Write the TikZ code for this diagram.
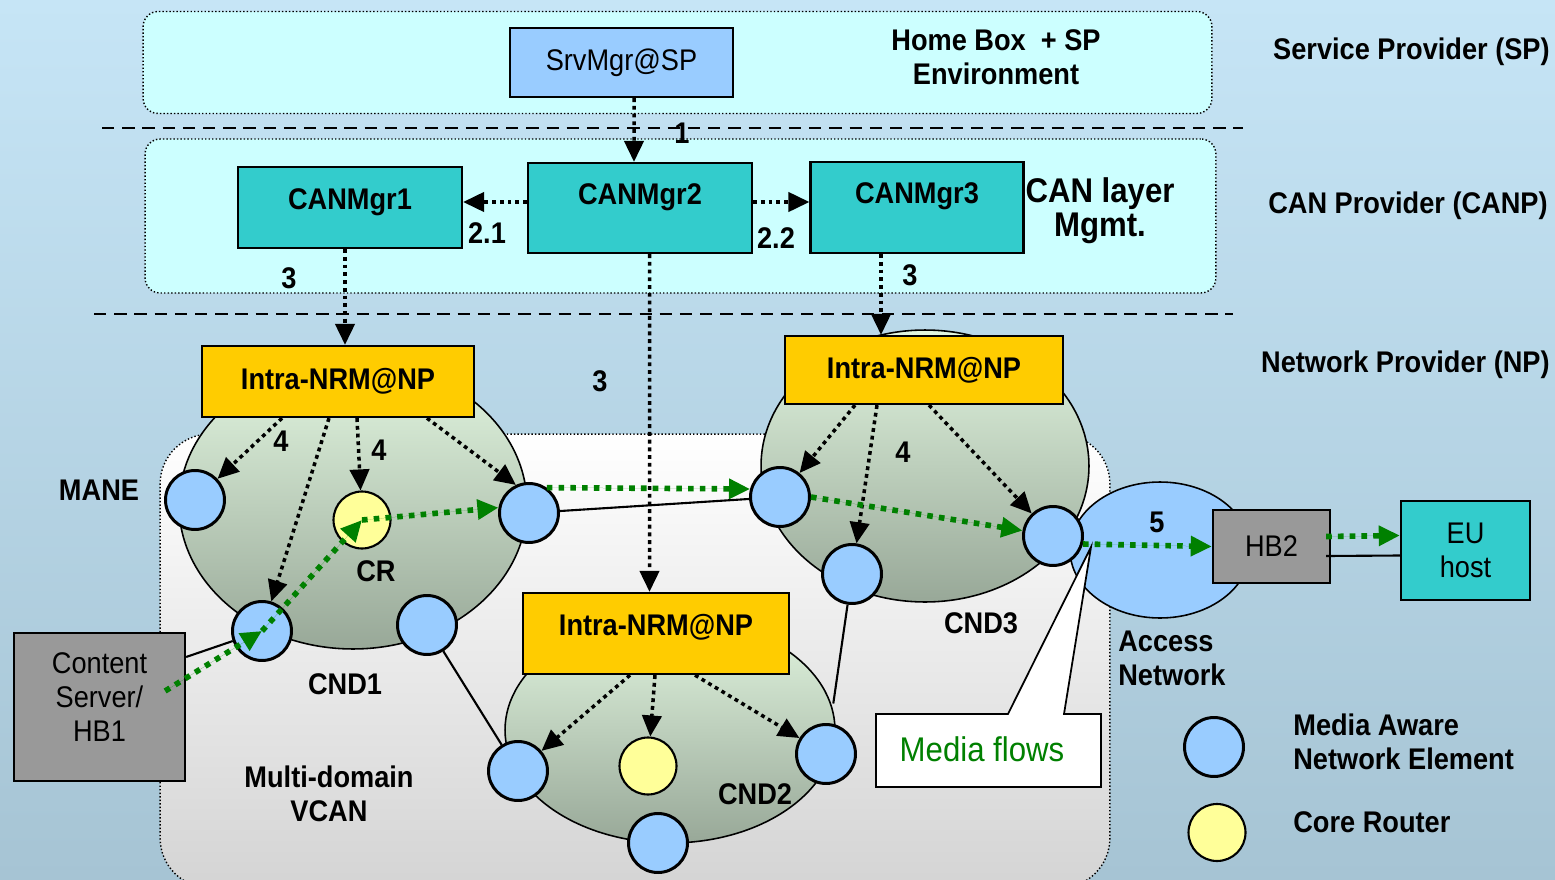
\documentclass[tikz,border=0pt]{standalone}
\usepackage{fontspec}
\setmainfont{Liberation Sans}[FakeStretch=0.91]
\usetikzlibrary{shapes.geometric, arrows.meta, calc}
\definecolor{bgtop}{RGB}{198,229,246}
\definecolor{bgbot}{RGB}{166,196,212}
\definecolor{layerfill}{RGB}{204,255,255}
\definecolor{srvblue}{RGB}{153,204,255}
\definecolor{canteal}{RGB}{51,204,204}
\definecolor{nrmgold}{RGB}{255,204,0}
\definecolor{hostgray}{RGB}{153,153,153}
\definecolor{crylw}{RGB}{255,255,153}
\definecolor{cndtop}{RGB}{226,246,224}
\definecolor{cndbot}{RGB}{152,168,152}
\definecolor{flowgreen}{RGB}{0,128,0}
\definecolor{vcanbot}{RGB}{212,212,212}

\begin{document}
\fontsize{17}{19.5}\selectfont
\begin{tikzpicture}[x=0.02cm, y=-0.02cm,
    layer/.style={draw, line width=0.8pt, dash pattern=on 0.8pt off 1.2pt, rounded corners=0.3cm, fill=layerfill, inner sep=0},
    sep/.style={line width=1.1pt, dash pattern=on 7pt off 4.5pt},
    box/.style={draw, line width=1.3pt, inner sep=0, align=center},
    mgr/.style={box, fill=canteal, font=\bfseries, text height=12pt, text depth=16pt},
    nrm/.style={box, fill=nrmgold, font=\bfseries},
    cnd/.style={ellipse, draw, line width=0.9pt, inner sep=0, top color=cndtop, bottom color=cndbot},
    mane/.style={circle, draw, line width=1.7pt, fill=srvblue, minimum size=1.18cm, inner sep=0},
    cr/.style={circle, draw, line width=1.2pt, fill=crylw, minimum size=1.14cm, inner sep=0},
    ctrl/.style={line width=2pt, dash pattern=on 2.2pt off 2.2pt, -{Triangle[length=12pt, width=11pt]}},
    flow/.style={draw=flowgreen, fill=flowgreen, line width=3.2pt, dash pattern=on 3.2pt off 3.5pt, -{Triangle[length=12pt, width=11pt]}},
    link/.style={line width=1.2pt},
    lbl/.style={font=\bfseries, inner sep=0}]

  \clip (0,0) rectangle (1555,879);
  \shade[top color=bgtop, bottom color=bgbot] (0,0) rectangle (1555,879);

  % layers
  \node[layer, minimum width=21.38cm, minimum height=2.04cm] (sp) at (677.5,62.5) {};
  \node[layer, minimum width=21.42cm, minimum height=3.08cm] (canp) at (680.5,216) {};
  \node[draw, line width=0.8pt, dash pattern=on 0.8pt off 1.2pt, rounded corners=1cm, top color=white, bottom color=vcanbot,
        minimum width=19cm, minimum height=9.08cm] (vcan) at (635,661) {};
  \draw[sep] (102,128) -- (1243,128);
  \draw[sep] (94,314) -- (1233,314);

  \node[lbl, anchor=east] (splbl) at (1550,52) {Service Provider (SP)};
  \node[lbl, anchor=east] (canplbl) at (1548,206) {CAN Provider (CANP)};
  \node[lbl, anchor=east] (nplbl) at (1550,365) {Network Provider (NP)};

  % managers
  \node[box, fill=srvblue, minimum width=4.46cm, minimum height=1.38cm] (srv) at (621.5,62.5) {SrvMgr@SP};
  \node[lbl, align=center] (hbenv) at (996,57.5) {Home Box\ \ + SP\\Environment};
  \node[mgr, text depth=10pt, minimum width=4.48cm, minimum height=1.62cm] (cm1) at (350,207.5) {CANMgr1};
  \node[mgr, minimum width=4.48cm, minimum height=1.8cm] (cm2) at (640,208) {CANMgr2};
  \node[mgr, minimum width=4.26cm, minimum height=1.82cm] (cm3) at (917,207.5) {CANMgr3};
  \node[lbl, align=center, font=\fontsize{19.5}{19.5}\selectfont\bfseries] (canmgmt) at (1100,211) {CAN layer\\Mgmt.};

  % domains
  \node[cnd, minimum width=6.96cm, minimum height=5.76cm] (cnd1) at (353,505) {};
  \node[cnd, minimum width=6.56cm, minimum height=5.44cm] (cnd3) at (925,466) {};
  \node[cnd, minimum width=6.6cm, minimum height=4.52cm] (cnd2) at (670,730) {};
  \node[ellipse, draw, line width=0.9pt, fill=srvblue, minimum width=3.6cm, minimum height=2.72cm, inner sep=0] (access) at (1160,550) {};

  \node[mane] (mane1) at (195,500) {};
  \node[cr] (cr1) at (362,520) {};
  \node[mane] (n1r) at (529,513) {};
  \node[mane] (n1bl) at (262,631) {};
  \node[mane] (n1br) at (427,625) {};
  \node[mane] (n3l) at (780,497) {};
  \node[mane] (n3b) at (852,574) {};
  \node[mane] (n3r) at (1053,536) {};
  \node[mane] (n2l) at (518,771) {};
  \node[cr] (cr2) at (648,766) {};
  \node[mane] (n2r) at (826,754) {};
  \node[mane] (n2b) at (658,843) {};

  \node[nrm, minimum width=5.44cm, minimum height=1.42cm] (nrm1) at (338,381.5) {Intra-NRM@NP};
  \node[nrm, minimum width=5.56cm, minimum height=1.36cm] (nrm3) at (924,370) {Intra-NRM@NP};
  \node[nrm, text height=12pt, text depth=10pt, minimum width=5.32cm, minimum height=1.62cm] (nrm2) at (656,633.5) {Intra-NRM@NP};

  \node[box, fill=hostgray, minimum width=3.42cm, minimum height=2.96cm] (cs) at (99.5,707) {Content\\Server/\\HB1\\[-8pt]};
  \node[box, fill=hostgray, minimum width=2.34cm, minimum height=1.46cm] (hb2) at (1271.5,546.5) {HB2};
  \node[box, fill=canteal, minimum width=2.58cm, minimum height=1.98cm] (eu) at (1465.5,550.5) {EU\\host};

  % links
  \draw[link] (cs.30) -- (n1bl);
  \draw[link] (n1r) -- (n3l);
  \draw[link] (n1br) -- (n2l);
  \draw[link, shorten >=0.4cm] (n3b) -- (n2r);
  \draw[link] ($(hb2.east)+(-5,9.5)$) -- ($(eu.west)+(0,5)$);

  % signalling
  \draw[ctrl] ($(srv.south)+(12.5,0)$) -- ($(cm2.north)+(-6,0)$);
  \draw[ctrl] ($(cm2.west)+(0,-6)$) -- ($(cm1.east)+(0,-5.5)$);
  \draw[ctrl] ($(cm2.east)+(0,-6)$) -- ($(cm3.west)+(0,-5.5)$);
  \draw[ctrl] ($(cm1.south)+(-5,0)$) -- ($(nrm1.north)+(7,0)$);
  \draw[ctrl] ($(cm2.south)+(9.5,0)$) -- ($(nrm2.north)+(-6.5,0)$);
  \draw[ctrl] ($(cm3.south)+(-36,0)$) -- ($(nrm3.north)+(-43,0)$);

  \draw[ctrl] ($(nrm1.south)+(-56,0)$) -- (mane1);
  \draw[ctrl] ($(nrm1.south)+(-9,0)$) -- (n1bl);
  \draw[ctrl] ($(nrm1.south)+(19,0)$) -- (cr1);
  \draw[ctrl] ($(nrm1.south)+(89,0)$) -- (n1r.115);
  \draw[ctrl] ($(nrm3.south)+(-69,0)$) -- (n3l);
  \draw[ctrl] ($(nrm3.south)+(-47,0)$) -- (n3b);
  \draw[ctrl] ($(nrm3.south)+(5,0)$) -- (n3r);
  \draw[ctrl] ($(nrm2.south)+(-26,0)$) -- (n2l);
  \draw[ctrl] ($(nrm2.south)+(-1,0)$) -- (cr2);
  \draw[ctrl] ($(nrm2.south)+(39,0)$) -- (n2r);

  \node[lbl] (l1) at (682,133) {1};
  \node[lbl] (l21) at (487,233) {2.1};
  \node[lbl] (l22) at (776,238) {2.2};
  \node[lbl] (l3a) at (289,278) {3};
  \node[lbl] (l3b) at (600,381) {3};
  \node[lbl] (l3c) at (910,275) {3};
  \node[lbl] (l4a) at (281,441) {4};
  \node[lbl] (l4b) at (379,450) {4};
  \node[lbl] (l4c) at (903,452) {4};
  \node[lbl] (l5) at (1157,522) {5};

  % media flows
  \draw[flow] ($(cs.east)+(-21,-16)$) -- (n1bl.center);
  \draw[flow] (n1bl.center) -- (cr1.center);
  \draw[flow] (cr1.center) -- (n1r.170);
  \draw[flow] (n1r.55) -- (n3l.165);
  \draw[flow] (n3l.east) -- (n3r.170);
  \draw[flow] (n3r.-15) -- (hb2.west);
  \draw[flow] ($(hb2.east)+(-5,-10)$) -- ($(eu.west)+(0,-15)$);

  \coordinate (tip) at (1091,547);
  \draw[line width=1pt, fill=white] (876,714) -- (1008,714) -- (tip) -- (1064,714) -- (1101,714) -- (1101,787) -- (876,787) -- cycle;
  \node[text=flowgreen, font=\fontsize{19.5}{19.5}\selectfont] (flows) at (982,749) {Media flows};

  \node[lbl] (manelbl) at (99,490) {MANE};
  \node[lbl] (crlbl) at (376,571) {CR};
  \node[lbl] (cnd1lbl) at (345,684) {CND1};
  \node[lbl] (cnd3lbl) at (981,623) {CND3};
  \node[lbl] (cnd2lbl) at (755,794) {CND2};
  \node[lbl, align=center] (vcanlbl) at (329,794) {Multi-domain\\VCAN};
  \node[lbl, align=left, anchor=west] (acclbl) at (1118,658) {Access\\Network};

  % legend
  \node[mane] (legmane) at (1214,747) {};
  \node[cr] (legcr) at (1217,832.5) {};
  \node[lbl, align=left, anchor=west] (legmanetxt) at (1293,742) {Media Aware\\Network Element};
  \node[lbl, anchor=west] (legcrtxt) at (1293,822) {Core Router};
\end{tikzpicture}
\end{document}
